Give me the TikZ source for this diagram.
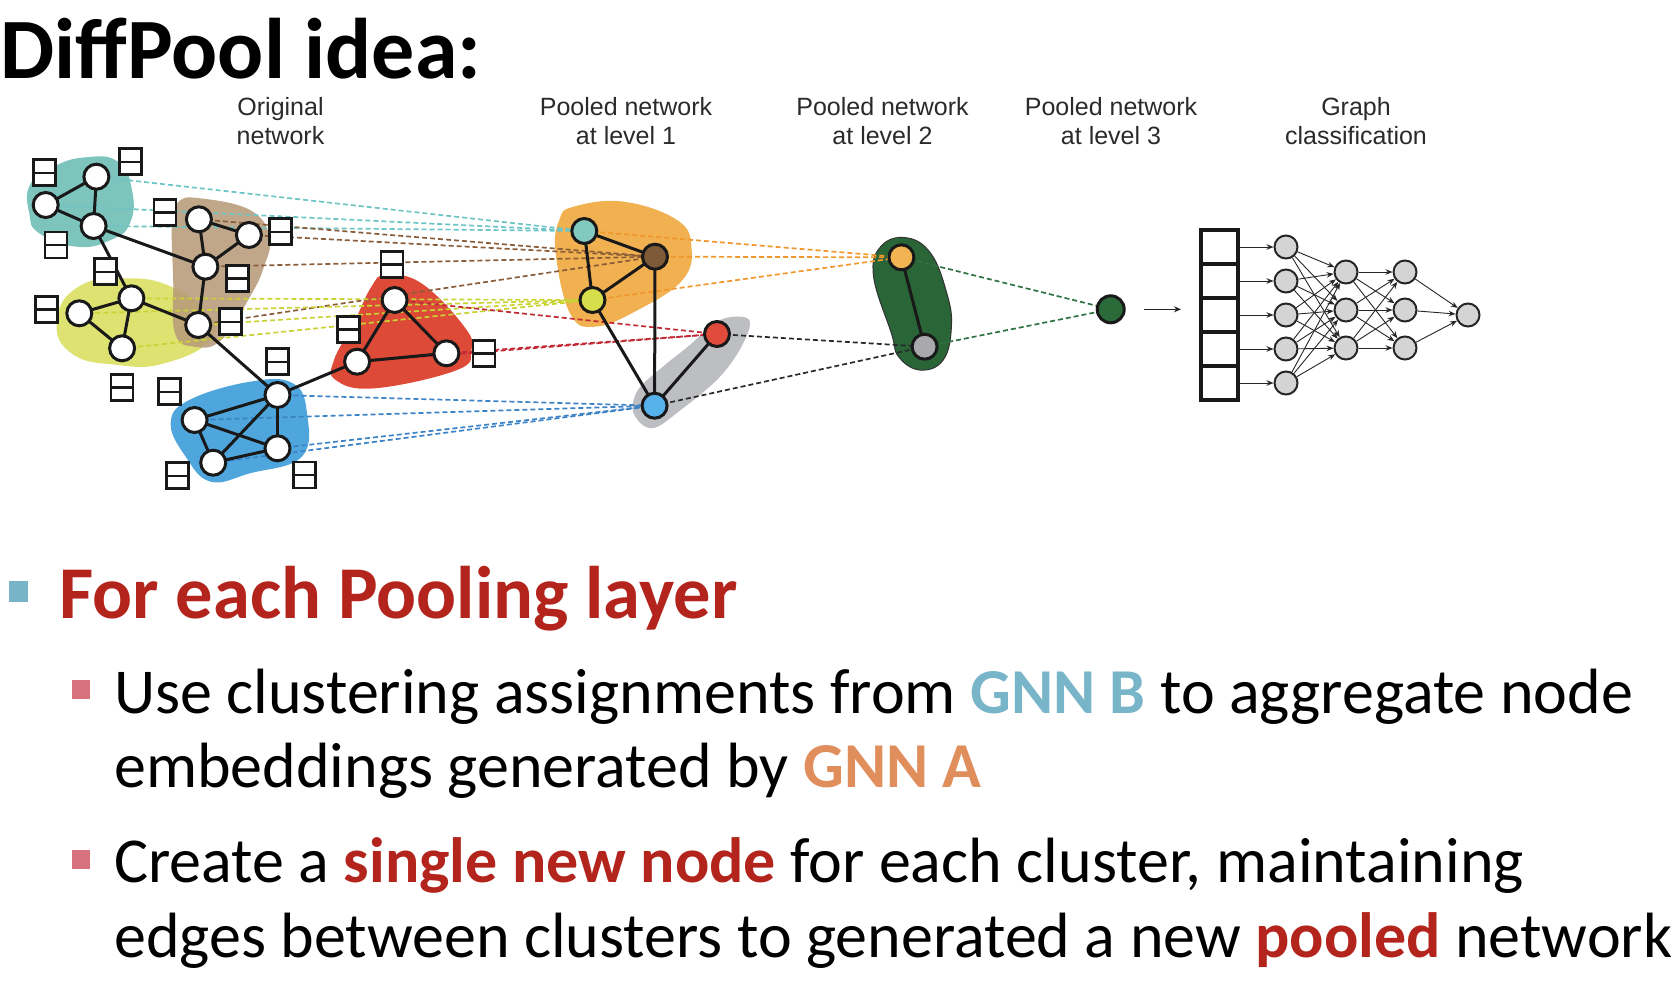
\documentclass[tikz,border=0pt]{standalone}
\usepackage{fontspec}
\setmainfont{Carlito}
\newfontfamily\labfont{Liberation Sans}
\usetikzlibrary{arrows.meta}
\definecolor{tealB}{HTML}{7DC4BC}
\definecolor{brownB}{HTML}{B89B7A}
\definecolor{yellB}{HTML}{DDE270}
\definecolor{redB}{HTML}{DD4B38}
\definecolor{blueB}{HTML}{4FA6DD}
\definecolor{orangeB}{HTML}{F1B151}
\definecolor{grayB}{HTML}{BDBEC2}
\definecolor{greenB}{HTML}{2A6538}
\definecolor{tealN}{HTML}{82C9C0}
\definecolor{brownN}{HTML}{7E5A38}
\definecolor{yellN}{HTML}{D6DE4C}
\definecolor{redN}{HTML}{E04B3B}
\definecolor{blueN}{HTML}{56B2EA}
\definecolor{orangeN}{HTML}{F2B452}
\definecolor{grayN}{HTML}{A9A9AD}
\definecolor{greenN}{HTML}{2B6A39}
\definecolor{tealD}{HTML}{6CC5C4}
\definecolor{brownD}{HTML}{8A5C38}
\definecolor{yellD}{HTML}{C9D334}
\definecolor{redD}{HTML}{C22A36}
\definecolor{blueD}{HTML}{3C82C6}
\definecolor{orangeD}{HTML}{F0972E}
\definecolor{blackD}{HTML}{2A2A2A}
\definecolor{greenD}{HTML}{2F7243}
\definecolor{redT}{HTML}{B3241C}
\definecolor{gnnb}{HTML}{78B5C9}
\definecolor{gnna}{HTML}{E08E5C}
\definecolor{bulA}{HTML}{77B4C8}
\definecolor{bulB}{HTML}{D8727E}
\definecolor{labgray}{HTML}{2A2A2A}
\pgfdeclarelayer{blobs}
\pgfdeclarelayer{lines}
\pgfsetlayers{blobs,lines,main}
\begin{document}
\begin{tikzpicture}[x=1pt,y=-1pt,
  gn/.style={circle,draw=black!90,line width=3pt,fill=white,minimum size=25pt,inner sep=0pt},
  pn/.style={gn,fill=#1},
  feat/.style={draw=black!90,fill=white,line width=2.6pt,minimum width=22pt,minimum height=26pt,inner sep=0pt,
    path picture={\draw[line width=2.4pt,black!90] (path picture bounding box.west) -- (path picture bounding box.east);}},
  edge/.style={line width=3pt,draw=black!90},
  dl/.style={line width=1.7pt,dash pattern=on 5pt off 3pt,draw=#1},
  mn/.style={circle,draw=black!85,line width=2pt,fill=black!17,minimum size=23pt,inner sep=0pt},
  cell/.style={draw=black!90,line width=4pt,minimum width=37pt,minimum height=34pt,inner sep=0pt},
  ma/.style={line width=0.9pt,draw=black!85,-{Stealth[length=7pt,width=5.5pt]}},
  lab/.style={anchor=north,inner sep=0pt,align=center,text=labgray,font=\labfont\fontsize{25}{29}\selectfont},
  txt/.style={anchor=base west,inner sep=0pt,font=\fontsize{64}{64}\selectfont}
]
\useasboundingbox (0,0) rectangle (1680,982);

% ---------- blobs ----------
\begin{pgfonlayer}{blobs}
\fill[tealB] plot[smooth cycle,tension=0.8] coordinates {(53.6,166.7) (85.7,157.3) (117.9,161.7) (132,190) (130,223) (110.7,240) (76.8,246.7) (39.3,233.3) (29.3,213.3) (30,185)};
\fill[yellB] plot[smooth cycle,tension=0.8] coordinates {(57,320) (78.6,286.7) (125,278.3) (171.4,286.7) (207,313.3) (210.7,340) (164.3,363.3) (117.9,365) (71.4,353.3)};
\fill[brownB,fill opacity=0.88] plot[smooth cycle,tension=0.7] coordinates {(178.6,201.7) (200,198.3) (250,210) (269.6,236.7) (264,266.7) (250,296.7) (221.4,340) (194.6,346.7) (175,333.3) (173.2,280) (172,223)};
\fill[redB] plot[smooth cycle,tension=0.7] coordinates {(385.7,275) (421.4,283.3) (464.3,326.7) (471.4,350) (457,370) (375,388.3) (335.7,380) (334,360) (353.6,323.3) (371.4,286.7)};
\fill[blueB] plot[smooth cycle,tension=0.7] coordinates {(189.3,400) (250,381.7) (292.9,383.3) (307,413.3) (301.8,456.7) (250,473.3) (210.7,481.7) (185.7,456.7) (170.7,423.3)};
\fill[orangeB] plot[smooth cycle,tension=0.7] coordinates {(573.6,206.7) (623.6,201.7) (677,220) (691.4,246.7) (682.5,280) (637.9,310) (595,326.7) (570,313.3) (555.7,253.3) (559.3,220)};
\fill[grayB] plot[smooth cycle,tension=0.6] coordinates {(748.6,319.3) (720,320) (687.9,346.7) (662.9,366.7) (637.9,390) (633.6,413.3) (652.1,428.3) (680.7,410) (720,376.7) (743.2,343.3)};
\filldraw[fill=greenB,draw=black!80,line width=1pt] plot[smooth cycle,tension=0.7] coordinates {(905.7,237.7) (930.7,253.3) (946.8,293.3) (951.4,326.7) (943.2,360) (920,370) (898.6,356.7) (891.4,333.3) (873.6,276.7) (880.7,246.7)};
\end{pgfonlayer}

% ---------- original network nodes ----------
\node[gn] (t1) at (96.4,176.7) {};
\node[gn] (t2) at (45.7,205) {};
\node[gn] (t3) at (93.6,226) {};
\node[gn] (b1) at (198.9,219.3) {};
\node[gn] (b2) at (248.9,235) {};
\node[gn] (b3) at (205.4,266.7) {};
\node[gn] (b4) at (198.2,325) {};
\node[gn] (y1) at (131.4,298.3) {};
\node[gn] (y2) at (79.3,313.3) {};
\node[gn] (y3) at (122.1,348.3) {};
\node[gn] (r1) at (394.6,300) {};
\node[gn] (r2) at (357.1,361.7) {};
\node[gn] (r3) at (446.4,353.3) {};
\node[gn] (l1) at (277.5,395) {};
\node[gn] (l2) at (194.6,420) {};
\node[gn] (l3) at (277.5,448.3) {};
\node[gn] (l4) at (213.2,462.7) {};

% feature boxes
\node[feat] (f1) at (44.6,172.7) {};
\node[feat] (f2) at (130.4,161.7) {};
\node[feat] (f3) at (56.1,245) {};
\node[feat] (f4) at (165,212.3) {};
\node[feat] (f5) at (280.4,231.7) {};
\node[feat] (f6) at (237.5,278.3) {};
\node[feat] (f7) at (105.4,271.7) {};
\node[feat] (f8) at (46.4,309.3) {};
\node[feat] (f9) at (230.4,321.7) {};
\node[feat] (f10) at (122.1,387.3) {};
\node[feat] (f11) at (169.6,391.7) {};
\node[feat] (f12) at (277.5,361.7) {};
\node[feat] (f13) at (391.8,264.3) {};
\node[feat] (f14) at (348.2,329.3) {};
\node[feat] (f15) at (483.9,353.3) {};
\node[feat] (f16) at (177.5,475.7) {};
\node[feat] (f17) at (304.3,475) {};

% ---------- pooled level 1 ----------
\node[pn=tealN] (pt) at (584.3,231) {};
\node[pn=brownN] (pb) at (655,256.7) {};
\node[pn=yellN] (py) at (592.5,300) {};
\node[pn=redN] (pr) at (717,334) {};
\node[pn=blueN] (pl) at (654.6,405.7) {};
% ---------- pooled level 2 ----------
\node[pn=orangeN] (qo) at (901.4,257.3) {};
\node[pn=grayN] (qg) at (924.6,346.7) {};
% ---------- pooled level 3 ----------
\node[pn=greenN,minimum size=27pt] (g) at (1110.7,309.3) {};

% ---------- lines ----------
\begin{pgfonlayer}{lines}
\foreach \s in {t1,t2,t3} \draw[dl=tealD] (\s.center) -- (pt.center);
\foreach \s in {b1,b2,b3,b4} \draw[dl=brownD] (\s.center) -- (pb.center);
\foreach \s in {y1,y2,y3,b4} \draw[dl=yellD] (\s.center) -- (py.center);
\foreach \s in {r1,r2,r3} \draw[dl=redD] (\s.center) -- (pr.center);
\foreach \s in {l1,l2,l3,l4} \draw[dl=blueD] (\s.center) -- (pl.center);
\foreach \s in {pt,pb,py} \draw[dl=orangeD] (\s.center) -- (qo.center);
\foreach \s in {pr,pl} \draw[dl=blackD] (\s.center) -- (qg.center);
\foreach \s in {qo,qg} \draw[dl=greenD] (\s.center) -- (g.center);
% solid edges
\foreach \a/\b in {t1/t2,t1/t3,t2/t3,t3/b3,t3/y1,b1/b2,b1/b3,b2/b3,b3/b4,y1/y2,y1/y3,y2/y3,y1/b4,b4/l1,l1/r2,r1/r2,r1/r3,r2/r3,l1/l2,l1/l3,l1/l4,l2/l3,l2/l4,l3/l4,pt/pb,pt/py,pb/py,pb/pl,py/pl,pr/pl,qo/qg}
  \draw[edge] (\a.center) -- (\b.center);
\end{pgfonlayer}

% ---------- classification ----------
\coordinate (arS) at (1144,309.3);
\coordinate (arE) at (1181,309.3);
\draw[line width=1pt,black!85,-{Stealth[length=7pt,width=6pt]}] (arS) -- (arE);

\foreach \i/\yy in {1/247,2/281,3/315,4/349,5/383} {
  \node[cell] (v\i) at (1219.5,\yy) {};
  \node[mn] (m1\i) at (1286,\yy) {};
}
\foreach \i/\yy in {1/272,2/310,3/348} {
  \node[mn] (m2\i) at (1346,\yy) {};
  \node[mn] (m3\i) at (1405,\yy) {};
}
\node[mn] (mo) at (1468,315) {};
\foreach \i in {1,...,5} \draw[ma] (v\i.east) -- (m1\i);
\foreach \i in {1,...,5} \foreach \j in {1,2,3} \draw[ma] (m1\i) -- (m2\j);
\foreach \i in {1,2,3} \foreach \j in {1,2,3} \draw[ma] (m2\i) -- (m3\j);
\foreach \i in {1,2,3} \draw[ma] (m3\i) -- (mo);

% ---------- labels ----------
\node[lab] (la) at (280.5,97) {Original\\network};
\node[lab] (lb) at (626,97) {Pooled network\\at level 1};
\node[lab] (lc) at (882.5,97) {Pooled network\\at level 2};
\node[lab] (ld) at (1111,97) {Pooled network\\at level 3};
\node[lab] (le) at (1356,97) {Graph\\classification};

% ---------- text ----------
\node[anchor=base west,inner sep=0pt,font=\fontsize{86}{86}\selectfont\bfseries] (title) at (0,78) {DiffPool idea:};
\fill[bulA] (8.6,580.7) rectangle (27.9,602);
\node[anchor=base west,inner sep=0pt,text=redT,font=\fontsize{74.5}{74.5}\selectfont\bfseries] (h1) at (59,618) {For each Pooling layer};
\fill[bulB] (71.5,680) rectangle (90,699);
\node[txt] (s1a) at (114,713) {Use clustering assignments from {\bfseries\color{gnnb}GNN B} to aggregate node};
\node[txt] (s1b) at (114,787.5) {embeddings generated by {\bfseries\color{gnna}GNN A}};
\fill[bulB] (71.5,850) rectangle (90,869);
\node[txt] (s2a) at (114,882) {Create a {\bfseries\color{redT}single new node} for each cluster, maintaining};
\node[txt] (s2b) at (114,957) {edges between clusters to generated a new {\bfseries\color{redT}pooled} network};
\end{tikzpicture}
\end{document}
